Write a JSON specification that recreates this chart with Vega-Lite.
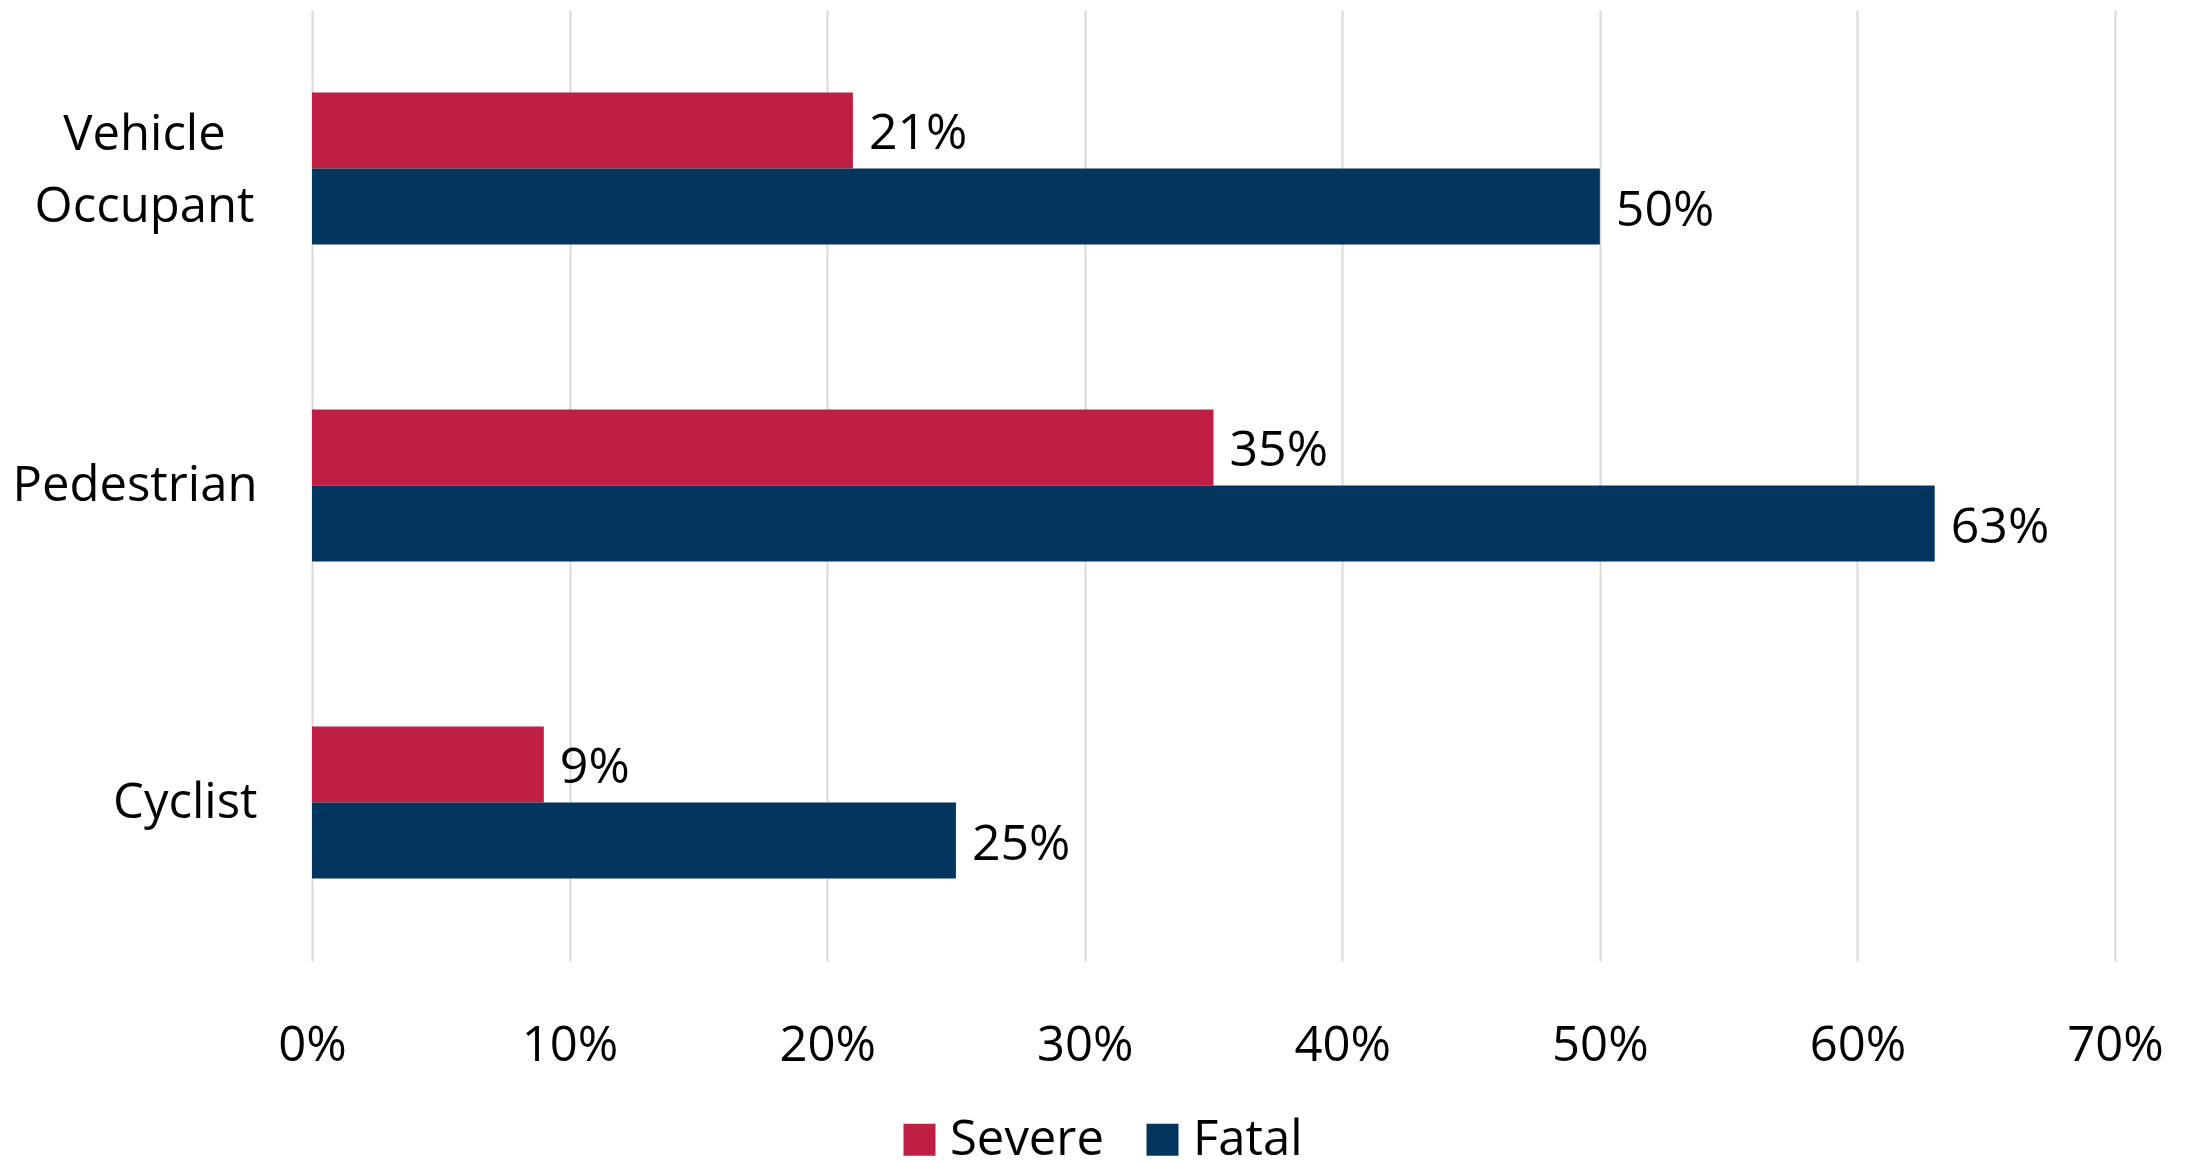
{
  "$schema": "https://vega.github.io/schema/vega-lite/v6.json",
  "autosize": "none",
  "width": 1803,
  "height": 951,
  "padding": {"left": 312, "top": 10, "right": 72, "bottom": 201},
  "background": "white",
  "config": {
    "view": {"stroke": null},
    "font": "Open Sans",
    "axis": {"labelFont": "Open Sans", "labelColor": "#000000"},
    "legend": {"labelFont": "Open Sans"}
  },
  "data": {
    "values": [
      {"category": "Vehicle Occupant", "type": "Severe", "value": 0.21},
      {"category": "Vehicle Occupant", "type": "Fatal", "value": 0.50},
      {"category": "Pedestrian", "type": "Severe", "value": 0.35},
      {"category": "Pedestrian", "type": "Fatal", "value": 0.63},
      {"category": "Cyclist", "type": "Severe", "value": 0.09},
      {"category": "Cyclist", "type": "Fatal", "value": 0.25}
    ]
  },
  "encoding": {
    "y": {
      "field": "category",
      "type": "nominal",
      "sort": ["Vehicle Occupant", "Pedestrian", "Cyclist"],
      "scale": {"paddingInner": 0.52, "paddingOuter": 0.26},
      "axis": {
        "title": null,
        "domain": false,
        "ticks": false,
        "labelFontSize": 49,
        "labelLineHeight": 72,
        "labelLimit": 400,
        "labelExpr": "datum.value === 'Vehicle Occupant' ? ['Vehicle', 'Occupant'] : datum.value",
        "labelAlign": {"condition": {"test": "datum.value === 'Vehicle Occupant'", "value": "center"}, "value": "right"},
        "labelPadding": {"condition": {"test": "datum.value === 'Vehicle Occupant'", "value": 168}, "value": 55},
        "labelOffset": {"condition": {"test": "datum.value === 'Vehicle Occupant'", "value": -34}, "value": 0}
      }
    },
    "yOffset": {
      "field": "type",
      "type": "nominal",
      "sort": ["Severe", "Fatal"],
      "scale": {"paddingInner": 0, "paddingOuter": 0}
    },
    "x": {
      "field": "value",
      "type": "quantitative",
      "scale": {"domain": [0, 0.7]},
      "axis": {
        "title": null,
        "values": [0, 0.1, 0.2, 0.3, 0.4, 0.5, 0.6, 0.7],
        "format": ".0%",
        "domain": false,
        "ticks": false,
        "grid": true,
        "gridColor": "#d9d9d9",
        "gridWidth": 2,
        "labelFontSize": 49,
        "labelPadding": 60,
        "labelFlush": false
      }
    }
  },
  "layer": [
    {
      "mark": {"type": "bar"},
      "encoding": {
        "color": {
          "field": "type",
          "type": "nominal",
          "sort": ["Severe", "Fatal"],
          "scale": {"domain": ["Severe", "Fatal"], "range": ["#BE1F42", "#03365E"]},
          "legend": {
            "title": null,
            "orient": "none",
            "direction": "horizontal",
            "legendX": 583,
            "legendY": 1105,
            "symbolType": "square",
            "symbolSize": 1024,
            "symbolStrokeWidth": 0,
            "labelFontSize": 49,
            "labelOffset": 6,
            "labelLimit": 400,
            "columnPadding": 34,
            "labelColor": "#000000"
          }
        }
      }
    },
    {
      "mark": {"type": "text", "align": "left", "baseline": "middle", "dx": 16, "dy": 4, "fontSize": 50, "color": "#000000"},
      "encoding": {
        "text": {"field": "value", "type": "quantitative", "format": ".0%"}
      }
    }
  ]
}
